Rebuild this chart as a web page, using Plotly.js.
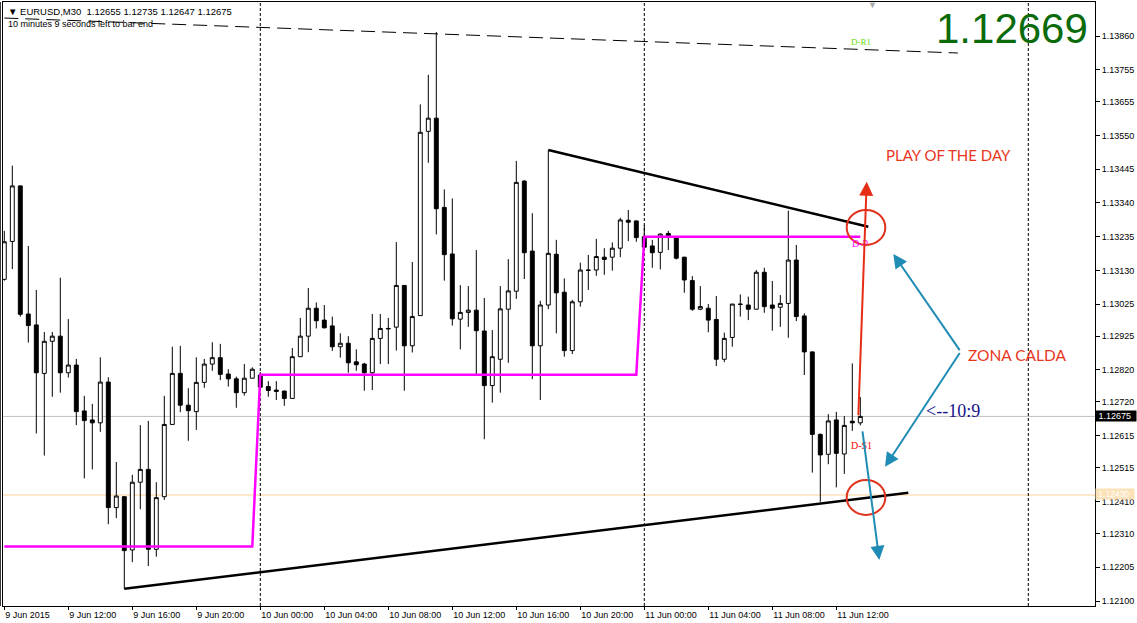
<!DOCTYPE html>
<html>
<head>
<meta charset="utf-8">
<script src="https://cdn.plot.ly/plotly-3.0.1.min.js"></script>
<style>
html,body{margin:0;padding:0;background:#fff;}
#chart{width:1137px;height:623px;}
</style>
</head>
<body>
<div id="chart"></div>
<script>
// ---- EURUSD M30 bars (9 Jun 2015 08:00 .. 11 Jun 2015 13:30) ----
const opens = [
1.13102,1.13220,1.13393,1.12994,1.12960,1.12809,1.12909,1.12925,1.12811,1.12835,
1.12692,1.12664,1.12655,1.12782,1.12391,1.12425,1.12259,1.12470,1.12510,1.12261,
1.12425,1.12650,1.12809,1.12710,1.12690,1.12781,1.12838,1.12858,1.12807,1.12792,
1.12749,1.12794,1.12804,1.12768,1.12757,1.12754,1.12731,1.12861,1.12925,1.13012,
1.12975,1.12957,1.12892,1.12903,1.12845,1.12838,1.12811,1.12918,1.12949,1.12953,
1.13083,1.12895,1.12989,1.13563,1.13604,1.13326,1.13181,1.12978,1.12999,1.13006,
1.12941,1.12771,1.12853,1.13009,1.13065,1.13408,1.13190,1.12895,1.13022,1.13180,
1.13062,1.12880,1.13032,1.13131,1.13131,1.13171,1.13171,1.13199,1.13286,1.13284,
1.13235,1.13206,1.13186,1.13245,1.13233,1.13171,1.13098,1.13009,1.13012,1.12977,
1.12853,1.12921,1.13025,1.13022,1.13009,1.13124,1.13022,1.13015,1.13027,1.13162,
1.12988,1.12876,1.12619,1.12557,1.12664,1.12558,1.12660,1.12655];
const highs = [
1.13253,1.13456,1.13395,1.13206,1.13069,1.12938,1.12938,1.13107,1.12978,1.12854,
1.12739,1.12714,1.12859,1.12797,1.12533,1.12426,1.12493,1.12648,1.12661,1.12470,
1.12739,1.12892,1.12895,1.12763,1.12859,1.12854,1.12906,1.12901,1.12822,1.12799,
1.12838,1.12828,1.12813,1.12785,1.12785,1.12755,1.12888,1.12982,1.13075,1.13030,
1.13022,1.12986,1.12934,1.12925,1.12884,1.12842,1.12994,1.12994,1.12982,1.13218,
1.13084,1.13156,1.13647,1.13739,1.13872,1.13382,1.13354,1.13084,1.13081,1.13193,
1.13044,1.12944,1.13081,1.13165,1.13471,1.13411,1.13308,1.13035,1.13505,1.13225,
1.13105,1.13038,1.13154,1.13178,1.13228,1.13199,1.13217,1.13294,1.13318,1.13285,
1.13271,1.13225,1.13245,1.13253,1.13237,1.13172,1.13112,1.13081,1.13025,1.13050,
1.12936,1.13024,1.13055,1.13048,1.13131,1.13138,1.13097,1.13053,1.13316,1.13209,
1.12996,1.12877,1.12622,1.12682,1.12689,1.12676,1.12840,1.12735];
const lows = [
1.13098,1.13134,1.12986,1.12905,1.12622,1.12553,1.12736,1.12749,1.12796,1.12648,
1.12482,1.12510,1.12627,1.12339,1.12358,1.12138,1.12221,1.12386,1.12209,1.12238,
1.12415,1.12649,1.12688,1.12599,1.12633,1.12764,1.12817,1.12788,1.12768,1.12702,
1.12740,1.12793,1.12760,1.12736,1.12726,1.12708,1.12730,1.12860,1.12875,1.12949,
1.12949,1.12879,1.12858,1.12811,1.12817,1.12755,1.12757,1.12838,1.12838,1.12880,
1.12755,1.12874,1.12988,1.13465,1.13242,1.13098,1.12958,1.12884,1.12954,1.12807,
1.12604,1.12718,1.12749,1.12842,1.13041,1.13103,1.12791,1.12726,1.13009,1.12934,
1.12861,1.12869,1.13017,1.13069,1.13113,1.13116,1.13129,1.13171,1.13221,1.13219,
1.13200,1.13138,1.13133,1.13193,1.13164,1.13060,1.13004,1.13006,1.12937,1.12832,
1.12844,1.12892,1.12986,1.12975,1.13008,1.12998,1.12942,1.12954,1.12920,1.12972,
1.12804,1.12500,1.12409,1.12526,1.12454,1.12496,1.12630,1.12647];
const closes = [
1.13219,1.13393,1.12993,1.12958,1.12811,1.12909,1.12925,1.12811,1.12835,1.12690,
1.12662,1.12655,1.12782,1.12391,1.12427,1.12257,1.12470,1.12510,1.12261,1.12422,
1.12650,1.12809,1.12710,1.12693,1.12781,1.12838,1.12858,1.12806,1.12792,1.12749,
1.12794,1.12822,1.12766,1.12756,1.12753,1.12731,1.12861,1.12925,1.13012,1.12973,
1.12951,1.12892,1.12903,1.12842,1.12836,1.12811,1.12918,1.12949,1.12948,1.13083,
1.12895,1.12986,1.13560,1.13604,1.13322,1.13179,1.12979,1.12999,1.13006,1.12942,
1.12771,1.12861,1.13010,1.13066,1.13404,1.13185,1.12895,1.13022,1.13183,1.13060,
1.12880,1.13032,1.13131,1.13130,1.13173,1.13164,1.13199,1.13287,1.13280,1.13232,
1.13202,1.13185,1.13243,1.13237,1.13168,1.13100,1.13009,1.13017,1.12975,1.12853,
1.12918,1.13025,1.13024,1.13009,1.13124,1.13017,1.13012,1.13027,1.13162,1.12986,
1.12876,1.12619,1.12555,1.12661,1.12560,1.12647,1.12655,1.12675];

// time axis (bar numbers of the 4-hour labels)
const tickBars   = [0, 8, 16, 24, 32, 40, 48, 56, 64, 72, 80, 88, 96, 104];
const tickLabels = ["9 Jun 2015","9 Jun 12:00","9 Jun 16:00","9 Jun 20:00","10 Jun 00:00","10 Jun 04:00",
  "10 Jun 08:00","10 Jun 12:00","10 Jun 16:00","10 Jun 20:00","11 Jun 00:00","11 Jun 04:00","11 Jun 08:00","11 Jun 12:00"];
const dayBreaks = [32, 80, 128];

// price axis labels
const priceTicks = [1.13860,1.13755,1.13655,1.13550,1.13445,1.13340,1.13235,1.13130,1.13025,
  1.12925,1.12820,1.12720,1.12615,1.12515,1.12410,1.12310,1.12205,1.12100];

// daily pivot (D-P) levels
const pivotStartBars = [0, 32, 80];
const pivotEndBars   = [31, 79, 107];
const pivotLevels    = [1.12270, 1.12805, 1.13235];

// drawn trendlines [bar, price]
const upperTrendBars = [68, 108],  upperTrendPrices = [1.13505, 1.13266];
const lowerTrendBars = [15, 113],  lowerTrendPrices = [1.12138, 1.12437];
const dashTrendBars  = [0, 119.2], dashTrendPrices  = [1.13916, 1.13807];

const bidPrice = 1.12675;
const levelPrice = 1.12430;
const bigQuote = "1.12669";

// arrows: [tailBar, tailPrice, tipBar, tipPrice]
const redArrow   = [106.75, 1.12674, 107.8, 1.13406];
const blueArrows = [[107.25, 1.12633, 109.375, 1.12228],
                    [119.55, 1.12877, 111.125, 1.13181],
                    [119.55, 1.12877, 110.09, 1.12518]];
// circles: [bar0, bar1, price0, price1]
const circles = [[105.3, 110.125, 1.13209, 1.13318],
                 [105.3, 110.125, 1.12368, 1.12477]];

const barIdx = opens.map((_, i) => i);

const pivX = [], pivY = [];
pivotLevels.forEach((lv, k) => { pivX.push(pivotStartBars[k], pivotEndBars[k]); pivY.push(lv, lv); });

const traces = [
  {type:'candlestick', x:barIdx, open:opens, high:highs, low:lows, close:closes,
   increasing:{line:{color:'#000', width:1}, fillcolor:'#fff'},
   decreasing:{line:{color:'#000', width:1}, fillcolor:'#000'},
   whiskerwidth:0, hoverinfo:'skip', showlegend:false},
  {type:'scatter', mode:'lines', x:pivX, y:pivY, line:{color:'#FF00FF', width:2.5}, hoverinfo:'skip'},
  {type:'scatter', mode:'lines', x:upperTrendBars, y:upperTrendPrices, line:{color:'#000', width:2.5}, hoverinfo:'skip'},
  {type:'scatter', mode:'lines', x:lowerTrendBars, y:lowerTrendPrices, line:{color:'#000', width:2.5}, hoverinfo:'skip'},
  {type:'scatter', mode:'lines', x:dashTrendBars, y:dashTrendPrices, line:{color:'#000', width:1, dash:'14px,7px'}, hoverinfo:'skip'}
];

const W = 1092, H = 604; // plot area in px
const px = v => (v - 3) / W;
const py = v => (606 - v) / H;

const shapes = [
  {type:'line', xref:'paper', x0:0, x1:1, yref:'y', y0:bidPrice, y1:bidPrice, line:{color:'#C0C0C0', width:1}, layer:'below'},
  {type:'line', xref:'paper', x0:0, x1:1, yref:'y', y0:levelPrice, y1:levelPrice, line:{color:'#FCE2B8', width:1.6}, layer:'below'},
  {type:'line', xref:'paper', x0:-0.0025, x1:-0.0025, yref:'paper', y0:0, y1:1, line:{color:'#000', width:1}}
];
dayBreaks.forEach(b => shapes.push({type:'line', xref:'x', x0:b, x1:b, yref:'paper', y0:0, y1:1,
  line:{color:'#000', width:1, dash:'3px,2px'}, layer:'below'}));
circles.forEach(c => shapes.push({type:'circle', xref:'x', yref:'y', x0:c[0], x1:c[1], y0:c[2], y1:c[3],
  line:{color:'#E0321C', width:2}}));

const annotations = [
  {xref:'paper', yref:'paper', x:px(6), y:py(11), xanchor:'left', yanchor:'middle', showarrow:false,
   text:'▼\u00A0EURUSD,M30\u00A0\u00A01.12655\u00A01.12735\u00A01.12647\u00A01.12675',
   font:{family:'Liberation Sans', size:9.5, color:'#000'}},
  {xref:'paper', yref:'paper', x:px(6), y:py(24), xanchor:'left', yanchor:'middle', showarrow:false,
   text:'10 minutes 9 seconds left to bar end', font:{family:'Liberation Sans', size:9, color:'#000'}},
  {xref:'paper', yref:'paper', x:px(1090), y:py(28), xanchor:'right', yanchor:'middle', showarrow:false,
   text:bigQuote, font:{family:'Liberation Sans', size:42, color:'#0B6B0B'}},
  {xref:'paper', yref:'paper', x:px(873), y:py(5), xanchor:'center', yanchor:'middle', showarrow:false,
   text:'▼', font:{size:9, color:'#A8A8A8'}},
  {xref:'paper', yref:'paper', x:px(849), y:py(42), xanchor:'left', yanchor:'middle', showarrow:false,
   text:'D-R1', font:{family:'Liberation Serif', size:9, color:'#66E000'}},
  {xref:'paper', yref:'paper', x:px(850), y:py(243), xanchor:'left', yanchor:'middle', showarrow:false,
   text:'D-P', font:{family:'Liberation Serif', size:10, color:'#FF00FF'}},
  {xref:'paper', yref:'paper', x:px(849), y:py(445), xanchor:'left', yanchor:'middle', showarrow:false,
   text:'D-S1', font:{family:'Liberation Serif', size:10, color:'#FF0000'}},
  {xref:'paper', yref:'paper', x:px(884), y:py(155), xanchor:'left', yanchor:'middle', showarrow:false,
   text:'PLAY OF THE DAY', font:{family:'Lato', size:15, color:'#E8361C'}},
  {xref:'paper', yref:'paper', x:px(966), y:py(355), xanchor:'left', yanchor:'middle', showarrow:false,
   text:'ZONA CALDA', font:{family:'Lato', size:15.5, color:'#E8361C'}},
  {xref:'paper', yref:'paper', x:px(924), y:py(411), xanchor:'left', yanchor:'middle', showarrow:false,
   text:'&lt;--10:9', font:{family:'Liberation Serif', size:18, color:'#14148C'}},
  {xref:'paper', yref:'y', x:1, y:bidPrice, xanchor:'left', yanchor:'middle', showarrow:false,
   text:'\u00A01.12675\u00A0\u00A0', bgcolor:'#000', borderpad:0, font:{family:'Liberation Sans', size:9, color:'#fff'}},
  {xref:'paper', yref:'y', x:1, y:levelPrice, xanchor:'left', yanchor:'bottom', yshift:-5, showarrow:false,
   text:'\u00A01.12430\u00A0\u00A0', bgcolor:'#FCE2B8', borderpad:0, font:{family:'Liberation Sans', size:8.5, color:'#fff'}}
];
const arrowDefs = [[redArrow, '#E62E17']].concat(blueArrows.map(a => [a, '#1E8CB4']));
arrowDefs.forEach(([a, col]) => annotations.push({
  xref:'x', yref:'y', axref:'x', ayref:'y', x:a[2], y:a[3], ax:a[0], ay:a[1], text:'', showarrow:true,
  arrowhead:2, arrowsize:1.4, arrowwidth:2, arrowcolor:col, standoff:0, startstandoff:0}));

const layout = {
  width:1137, height:623,
  margin:{l:3, r:42, t:2, b:17, pad:0},
  paper_bgcolor:'#fff', plot_bgcolor:'#fff', showlegend:false,
  font:{family:'Liberation Sans', size:9, color:'#000'},
  xaxis:{range:[-0.1625, 136.3375], showgrid:false, zeroline:false, showline:true, linecolor:'#000', linewidth:1,
    mirror:true, ticks:'outside', ticklen:3, tickcolor:'#000', tickvals:tickBars, ticktext:tickLabels,
    ticklabelposition:'outside right', tickfont:{family:'Liberation Sans', size:9, color:'#000'},
    rangeslider:{visible:false}, fixedrange:true},
  yaxis:{range:[1.1208443, 1.139659], side:'right', showgrid:false, zeroline:false, showline:true, linecolor:'#000',
    linewidth:1, mirror:true, ticks:'outside', ticklen:4, tickcolor:'#000', tickvals:priceTicks,
    ticktext:priceTicks.map(v => v.toFixed(5)), tickfont:{family:'Liberation Sans', size:9, color:'#000'}, fixedrange:true},
  shapes:shapes, annotations:annotations
};

Plotly.newPlot('chart', traces, layout, {displayModeBar:false, staticPlot:true});
</script>
</body>
</html>
